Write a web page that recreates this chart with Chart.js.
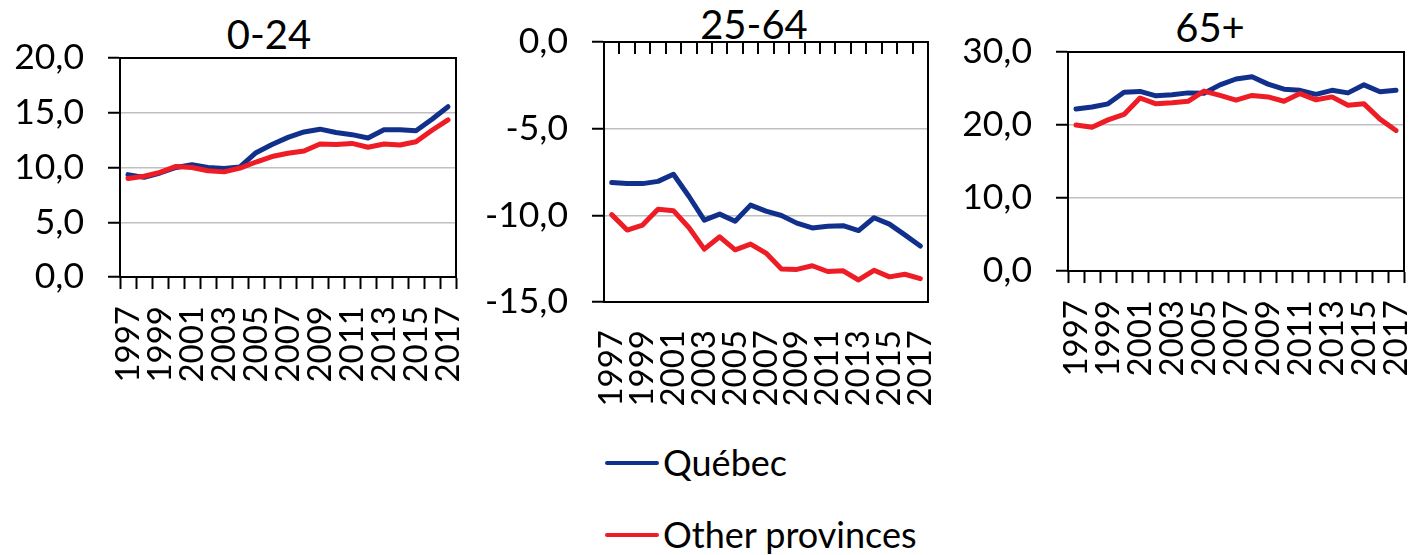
<!DOCTYPE html>
<html>
<head>
<meta charset="utf-8">
<script src="https://cdn.jsdelivr.net/npm/chart.js@4/dist/chart.umd.min.js"></script>
<style>
  html, body { margin: 0; padding: 0; background: #fff; }
  body { position: relative; width: 1416px; height: 555px; overflow: hidden; font-family: Lato, "Open Sans", sans-serif; color: #000; }
  canvas { position: absolute; }
  .title { position: absolute; width: 300px; text-align: center; font-size: 40px; line-height: 40px; white-space: nowrap; }
  .sw { position: absolute; width: 54px; height: 4px; border-radius: 2px; }
  .lt { position: absolute; font-size: 36px; line-height: 36px; white-space: nowrap; }
</style>
</head>
<body>
<div class="title" style="left:119px;top:14px">0-24</div>
<div class="title" style="left:604px;top:4px">25-64</div>
<div class="title" style="left:1060px;top:7px">65+</div>

<canvas id="c1" width="470" height="440" style="left:0;top:0"></canvas>
<canvas id="c2" width="480" height="440" style="left:470px;top:0"></canvas>
<canvas id="c3" width="466" height="400" style="left:950px;top:0"></canvas>

<div class="sw" style="left:605px;top:461px;background:#10308C"></div>
<div class="lt" style="left:663px;top:444px">Québec</div>
<div class="sw" style="left:605px;top:533px;background:#EE1C25"></div>
<div class="lt" style="left:663px;top:516px">Other provinces</div>

<script>
// ---- data ----
const years = ['1997','1998','1999','2000','2001','2002','2003','2004','2005','2006','2007',
               '2008','2009','2010','2011','2012','2013','2014','2015','2016','2017'];
const seriesNames = ['Québec', 'Other provinces'];
const panelTitles = ['0-24', '25-64', '65+'];

const quebec_0_24 = [9.35, 9.1, 9.5, 10.0, 10.25, 10.0, 9.9, 10.05, 11.35, 12.1, 12.75,
                     13.25, 13.5, 13.2, 13.0, 12.7, 13.45, 13.45, 13.35, 14.4, 15.55];
const other_0_24  = [9.0, 9.2, 9.55, 10.1, 10.0, 9.7, 9.6, 9.95, 10.5, 11.0, 11.3,
                     11.5, 12.15, 12.1, 12.2, 11.85, 12.15, 12.05, 12.35, 13.4, 14.35];

const quebec_25_64 = [-8.1, -8.17, -8.17, -8.04, -7.63, -8.9, -10.28, -9.93, -10.34, -9.41, -9.76,
                      -10.01, -10.45, -10.73, -10.63, -10.6, -10.88, -10.14, -10.51, -11.13, -11.77];
const other_25_64  = [-9.96, -10.85, -10.56, -9.65, -9.73, -10.7, -11.95, -11.24, -11.99, -11.66, -12.18,
                      -13.09, -13.12, -12.91, -13.24, -13.2, -13.73, -13.17, -13.55, -13.4, -13.65];

const quebec_65 = [22.2, 22.47, 22.9, 24.5, 24.6, 24.0, 24.15, 24.4, 24.35, 25.5, 26.3,
                   26.6, 25.6, 24.9, 24.75, 24.2, 24.75, 24.4, 25.5, 24.55, 24.75];
const other_65  = [20.0, 19.7, 20.7, 21.45, 23.7, 22.9, 23.05, 23.25, 24.65, 24.05, 23.4,
                   24.05, 23.85, 23.25, 24.3, 23.45, 23.85, 22.7, 22.9, 20.8, 19.25];

const yTicks_0_24 = { min: 0, max: 20, step: 5 };
const yTicks_25_64 = { min: -15, max: 0, step: 5 };
const yTicks_65 = { min: 0, max: 30, step: 10 };

// ---- styling ----
const BLUE = '#10308C';
const RED = '#EE1C25';
const FONT = 'Lato, "Open Sans", sans-serif';

const fmt = v => v.toFixed(1).replace('.', ',');

const framePlugin = {
  id: 'frame',
  afterDraw(chart, args, opts) {
    const { ctx, chartArea: a } = chart;
    ctx.save();
    ctx.strokeStyle = '#000';
    ctx.lineWidth = 2;
    ctx.strokeRect(a.left, a.top, a.right - a.left, a.bottom - a.top);
    if (opts.topTicks) {
      const xs = chart.scales.x;
      ctx.beginPath();
      for (let i = 0; i <= xs.ticks.length; i++) {
        const px = Math.round(xs.getPixelForValue(i - 0.5));
        ctx.moveTo(px, a.top);
        ctx.lineTo(px, a.top + opts.topTicks);
      }
      ctx.stroke();
    }
    ctx.restore();
  }
};

function makeChart(id, q, o, yt, geo) {
  const ctx = document.getElementById(id);
  return new Chart(ctx, {
    type: 'line',
    data: {
      labels: years,
      datasets: [
        { label: seriesNames[0], data: q, borderColor: BLUE, backgroundColor: BLUE, order: 1 },
        { label: seriesNames[1], data: o, borderColor: RED, backgroundColor: RED, order: 0 }
      ]
    },
    options: {
      responsive: false,
      animation: false,
      devicePixelRatio: 1,
      elements: {
        line: { borderWidth: 5, tension: 0, borderCapStyle: 'round', borderJoinStyle: 'round' },
        point: { radius: 0, hoverRadius: 0 }
      },
      layout: { autoPadding: false, padding: { top: geo.top, right: geo.right, left: 0, bottom: 0 } },
      plugins: {
        legend: { display: false },
        tooltip: { enabled: false },
        title: { display: false },
        frame: { topTicks: geo.topTicks || 0 }
      },
      scales: {
        x: {
          type: 'category',
          offset: true,
          grid: {
            offset: true, drawOnChartArea: false, drawTicks: !geo.topTicks,
            tickLength: 12, tickColor: '#000', tickWidth: 2, color: '#000'
          },
          border: { color: '#000', width: 2 },
          ticks: {
            autoSkip: false, minRotation: 90, maxRotation: 90, padding: geo.xPad,
            color: '#000', font: { family: FONT, size: 33 },
            callback(v, i) { return i % 2 === 0 ? this.getLabelForValue(v) : ''; }
          },
          afterFit(s) { s.height = geo.xH; s.paddingLeft = 0; s.paddingRight = 0; }
        },
        y: {
          min: yt.min, max: yt.max,
          grid: { color: '#C0C0C0', lineWidth: 1.5, tickColor: '#000', tickLength: 12, tickWidth: 2 },
          border: { color: '#000', width: 2 },
          ticks: {
            stepSize: yt.step, padding: 24, color: '#000',
            font: { family: FONT, size: 35.5 },
            callback: v => fmt(v)
          },
          afterFit(s) { s.width = geo.yW; s.paddingTop = 0; s.paddingBottom = 0; }
        }
      }
    },
    plugins: [framePlugin]
  });
}

makeChart('c1', quebec_0_24, other_0_24, yTicks_0_24, { top: 58, right: 14, yW: 120, xH: 163, xPad: 17 });
makeChart('c2', quebec_25_64, other_25_64, yTicks_25_64, { top: 42, right: 22, yW: 134, xH: 138, xPad: 28, topTicks: 12 });
makeChart('c3', quebec_65, other_65, yTicks_65, { top: 52, right: 12, yW: 118, xH: 129, xPad: 17 });
</script>
</body>
</html>
